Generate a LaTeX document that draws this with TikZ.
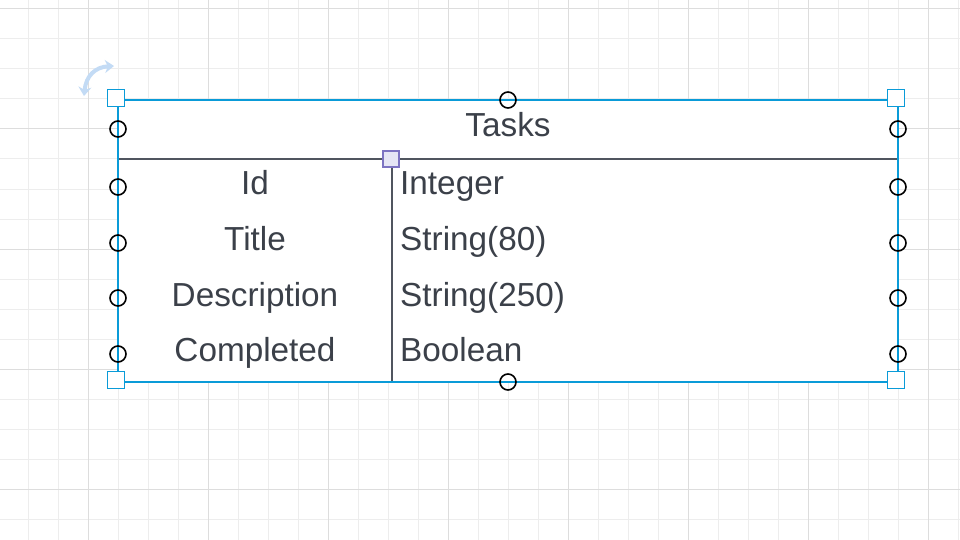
\documentclass[tikz,border=0pt]{standalone}
\usepackage{fontspec}
\setmainfont{Liberation Sans}
\usetikzlibrary{arrows,arrows.meta,shapes}
\definecolor{selblue}{HTML}{0A9BD8}
\definecolor{rotblue}{HTML}{C3DBF5}
\definecolor{inkgray}{HTML}{3B4049}
\definecolor{rulegray}{HTML}{50555F}
\definecolor{minorgrid}{HTML}{EDEDED}
\definecolor{majorgrid}{HTML}{DDDDDD}
\definecolor{pinfill}{HTML}{E6E6F5}
\definecolor{pindraw}{HTML}{7D74C2}
\tikzstyle{handle}=[circle,draw=black,line width=1.6pt,minimum size=16pt,inner sep=0pt]
\tikzstyle{corner}=[rectangle,draw=selblue,line width=1.8pt,fill=white,minimum size=17pt,inner sep=0pt]
\tikzstyle{pin}=[rectangle,draw=pindraw,line width=1.2pt,fill=pinfill,minimum size=16pt,inner sep=0pt]
\tikzstyle{field}=[text=inkgray,inner sep=0pt,font=\fontsize{33.3}{37}\selectfont]
\tikzstyle{rule} = [draw,rulegray,line width=2pt]

\begin{document}
\begin{tikzpicture}[x=1pt,y=-1pt]
    \useasboundingbox (0,0) rectangle (960,540);
    \fill[white] (0,0) rectangle (960,540);
    % First we draw the grid
    \foreach \x in {28,58,...,958}
        \draw[minorgrid,line width=1pt] (\x,0) -- (\x,540);
    \foreach \y in {9,39,...,539}
        \draw[minorgrid,line width=1pt] (0,\y) -- (960,\y);
    \foreach \x in {88,208,...,928}
        \draw[majorgrid,line width=1pt] (\x,0) -- (\x,540);
    \foreach \y in {9,129,249,369,489}
        \draw[majorgrid,line width=1pt] (0,\y) -- (960,\y);
    % The table and its rules
    \coordinate (nw) at (118,100);
    \coordinate (se) at (898,382);
    \coordinate (hw) at (118,159);
    \coordinate (he) at (898,159);
    \coordinate (cb) at (392,382);
    \fill[white] (nw) rectangle (se);
    \path[rule] (hw) -- (he);
    \path[rule] (cb) -- (392,159);
    \draw[selblue,line width=2pt] (nw) rectangle (se);
    % Texts
    \node[field,anchor=base] (title) at (508,136.5) {Tasks};
    \foreach \y/\name/\kind in {194.5/Id/Integer, 250.5/Title/String(80), 306/Description/String(250), 361.5/Completed/Boolean}{
        \node[field,anchor=base] (\name) at (255,\y) {\name};
        \node[field,anchor=base west] (\name-type) at (400,\y) {\kind};
    }
    % Selection handles
    \foreach \pos/\name in {{(116,98)/c1}, {(896,98)/c2}, {(116,380)/c3}, {(896,380)/c4}}
        \node[corner] (\name) at \pos {};
    \foreach \y/\name in {129/a, 187/b, 243/c, 298/d, 354/e}{
        \node[handle] (l\name) at (118,\y) {};
        \node[handle] (r\name) at (898,\y) {};
    }
    \node[handle] (top) at (508,100) {};
    \node[handle] (bottom) at (508,382) {};
    \node[pin] (split) at (391,159) {};
    % Rotation arrow
    \draw[rotblue,line width=4pt,{Stealth[length=9pt,width=13pt]}-{Stealth[length=9pt,width=13pt]}]
        (84,96) .. controls (86,76) and (95,67) .. (114,66);
\end{tikzpicture}
\end{document}
